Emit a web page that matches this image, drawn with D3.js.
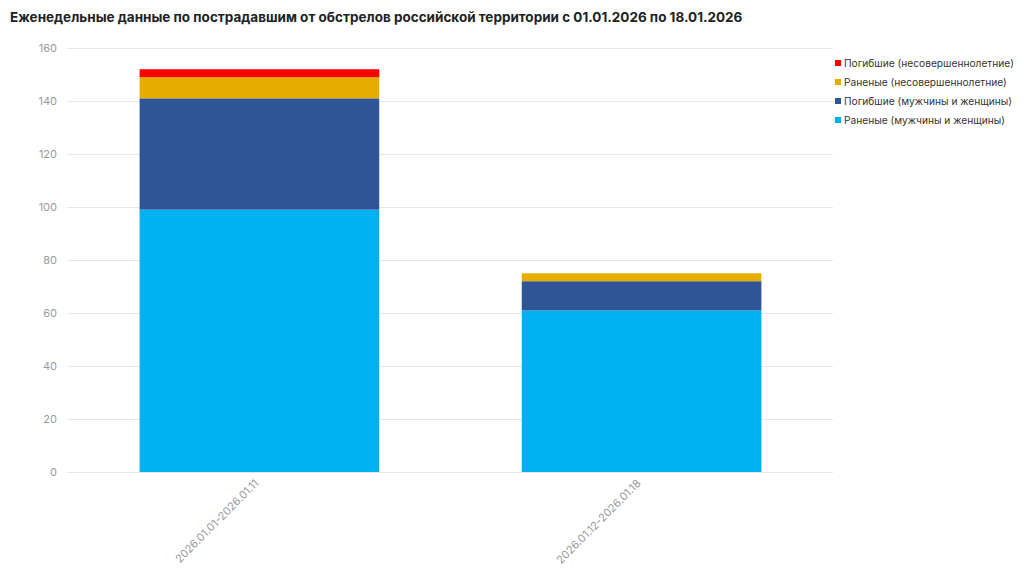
<!DOCTYPE html>
<html>
<head>
<meta charset="utf-8">
<script src="https://cdn.jsdelivr.net/npm/d3@7"></script>
<style>
  body { margin: 0; background: #fff; }
  svg { font-family: Inter, "Noto Sans", sans-serif; }
</style>
</head>
<body>
<div id="chart"></div>
<script>
// data
const periods = ["2026.01.01-2026.01.11", "2026.01.12-2026.01.18"];
const injuredAdults = [99, 61];
const killedAdults = [42, 11];
const injuredMinors = [8, 3];
const killedMinors = [3, 0];
const yTicks = [0, 20, 40, 60, 80, 100, 120, 140, 160];

const seriesNames = [
    "Раненые (мужчины и женщины)",
    "Погибшие (мужчины и женщины)",
    "Раненые (несовершеннолетние)",
    "Погибшие (несовершеннолетние)"
];
const seriesColors = ["#00b0f0", "#2f5597", "#e6ad00", "#ff0000"];

const width = 1024, height = 580;
const margin = { top: 48, right: 190, bottom: 108, left: 67 };

// build table for d3.stack
const keys = ["ia", "ka", "im", "km"];
const table = periods.map(function (p, i) {
    return { period: p, ia: injuredAdults[i], ka: killedAdults[i], im: injuredMinors[i], km: killedMinors[i] };
});
const stacked = d3.stack().keys(keys)(table);

const svg = d3.select("#chart")
    .append("svg")
    .attr("width", width)
    .attr("height", height);

svg.append("text")
    .attr("x", 10)
    .attr("y", 22)
    .style("font-size", "13.5px")
    .style("font-weight", "700")
    .style("fill", "#222")
    .text("Еженедельные данные по пострадавшим от обстрелов российской территории с 01.01.2026 по 18.01.2026");

const x = d3.scaleBand()
    .domain(periods)
    .range([margin.left, 834])
    .paddingInner(0.373)
    .paddingOuter(0.19);

const y = d3.scaleLinear()
    .domain([0, 160])
    .range([height - margin.bottom, margin.top]);

// grid lines
svg.append("g")
    .selectAll("line")
    .data(yTicks)
    .enter()
    .append("line")
    .attr("x1", margin.left)
    .attr("x2", 833)
    .attr("y1", function (d) { return y(d) + 0.5; })
    .attr("y2", function (d) { return y(d) + 0.5; })
    .attr("stroke", "#e6e6e6")
    .attr("stroke-width", 1);

// y axis labels
svg.append("g")
    .selectAll("text")
    .data(yTicks)
    .enter()
    .append("text")
    .attr("x", 57)
    .attr("y", function (d) { return y(d); })
    .attr("dy", "0.35em")
    .style("text-anchor", "end")
    .style("font-size", "11px")
    .style("fill", "#999")
    .text(function (d) { return d; });

// bars
svg.append("g")
    .selectAll("g")
    .data(stacked)
    .enter()
    .append("g")
    .attr("fill", function (d, i) { return seriesColors[i]; })
    .selectAll("rect")
    .data(function (d) { return d; })
    .enter()
    .append("rect")
    .attr("x", function (d) { return x(d.data.period); })
    .attr("y", function (d) { return y(d[1]); })
    .attr("width", x.bandwidth())
    .attr("height", function (d) { return y(d[0]) - y(d[1]); });

// x axis labels, rotated
svg.append("g")
    .selectAll("text")
    .data(periods)
    .enter()
    .append("text")
    .attr("transform", function (d) {
        return "translate(" + (x(d) + x.bandwidth() / 2) + "," + 484 + ") rotate(-45)";
    })
    .style("text-anchor", "end")
    .style("font-size", "11px")
    .style("fill", "#999")
    .text(function (d) { return d; });

// legend (reverse order, top = last series)
const legendItems = seriesNames.map(function (n, i) { return { name: n, color: seriesColors[i] }; }).reverse();
const legend = svg.append("g");
legend.selectAll("rect")
    .data(legendItems)
    .enter()
    .append("rect")
    .attr("x", 835)
    .attr("y", function (d, i) { return 60 + i * 19; })
    .attr("width", 6)
    .attr("height", 6)
    .attr("fill", function (d) { return d.color; });
legend.selectAll("text")
    .data(legendItems)
    .enter()
    .append("text")
    .attr("x", 844)
    .attr("y", function (d, i) { return 63 + i * 19; })
    .attr("dy", "0.35em")
    .style("font-size", "10.2px")
    .style("fill", "#333")
    .text(function (d) { return d.name; });
</script>
</body>
</html>
